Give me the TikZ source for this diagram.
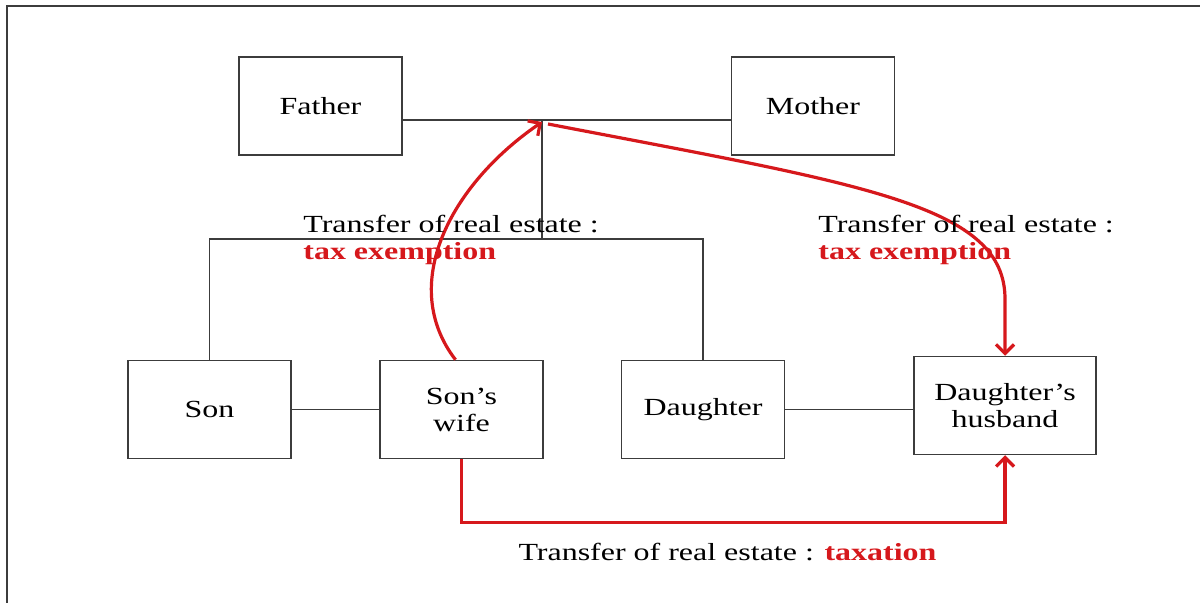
\documentclass[tikz,border=0pt]{standalone}
\usepackage{fontspec}
\setmainfont{Liberation Serif}[FakeStretch=1.3]
\usepackage{tikz}
\usetikzlibrary{calc, positioning, arrows.meta}
\usepackage{xcolor}
\definecolor{taxRed}{RGB}{214, 24, 28}
\definecolor{lineGray}{RGB}{60, 60, 60}

\begin{document}
\begin{tikzpicture}[x=0.5pt, y=-0.5pt, >={Straight Barb[length=4.5pt, width=9pt]},
    font=\fontsize{12.3}{13.5}\selectfont,
    person/.style={draw=lineGray, line width=0.75pt, minimum width=81.5pt, minimum height=49pt, align=center, inner sep=0pt},
    kin/.style={lineGray, line width=0.7pt},
    transfer/.style={->, taxRed, line width=1.6pt},
    note/.style={align=left, inner sep=0pt}]
  \useasboundingbox (0,0) rectangle (1200,603);
  \draw[lineGray, line width=0.8pt] (1200,6) -- (7,6) -- (7,603);

  % parents
  \node[person] (father) at (320.5,106) {Father};
  \node[person] (mother) at (813,106) {Mother};
  \coordinate (marriage) at (542,120);
  \coordinate (giftin) at (542,122);
  \coordinate (giftout) at (548,124);
  \coordinate (kids) at (542,239);

  % children and spouses
  \node[person] (son) at (209.5,409.5) {Son};
  \node[person] (sonwife) at (461.5,409.5) {Son’s\\wife};
  \node[person] (daughter) at (703,409.5) {Daughter};
  \node[person, minimum width=91pt] (husband) at (1005,405.5) {Daughter’s\\husband};

  \draw[kin] (father.east |- marriage) -- (mother.west |- marriage);
  \draw[kin] (marriage) -- (kids);
  \draw[kin] (son.north) -- (son.north |- kids) -- (daughter.north |- kids) -- (daughter.north);
  \draw[kin] (son.east) -- (sonwife.west);
  \draw[kin] (daughter.east) -- (husband.west |- daughter.east);

  % transfers
  \draw[transfer] ($(sonwife.north)+(-6,0)$) .. controls (398,285) and (450,185) .. (giftin);
  \draw[transfer] (giftout) .. controls (865,185) and (1006,205) .. (1005,300) -- (husband.north);
  \draw[transfer] (sonwife.south) -- ++(0,63) -| (husband.south);

  \node[note, anchor=west] (exempt1) at (303,239.5) {Transfer of real estate :\\\textcolor{taxRed}{\bfseries tax exemption}};
  \node[note, anchor=west] (exempt2) at (818,239.5) {Transfer of real estate :\\\textcolor{taxRed}{\bfseries tax exemption}};
  \node[note] (taxed) at (727.5,552) {Transfer of real estate : \textcolor{taxRed}{\bfseries taxation}};
\end{tikzpicture}
\end{document}
